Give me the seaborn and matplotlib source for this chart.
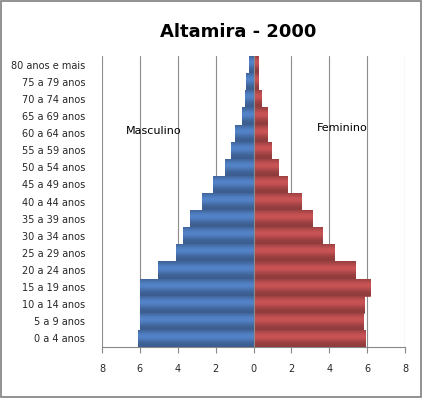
import numpy as np
import matplotlib
matplotlib.use("Agg")
import matplotlib.pyplot as plt
import matplotlib.patches as mpatches
import pandas as pd
import seaborn as sns

faixas = ['80 anos e mais', '75 a 79 anos', '70 a 74 anos', '65 a 69 anos', '60 a 64 anos',
          '55 a 59 anos', '50 a 54 anos', '45 a 49 anos', '40 a 44 anos', '35 a 39 anos',
          '30 a 34 anos', '25 a 29 anos', '20 a 24 anos', '15 a 19 anos', '10 a 14 anos',
          '5 a 9 anos', '0 a 4 anos']
masculino = [0.25, 0.42, 0.47, 0.62, 1.0, 1.17, 1.53, 2.16, 2.7, 3.33, 3.75, 4.12, 5.05, 6.0, 6.0, 6.0, 6.12]
feminino = [0.25, 0.23, 0.39, 0.71, 0.71, 0.93, 1.31, 1.76, 2.5, 3.07, 3.6, 4.23, 5.35, 6.14, 5.84, 5.79, 5.88]

df = pd.DataFrame({'faixa': faixas, 'masc': -np.array(masculino), 'fem': feminino})

sns.set_style("white")
plt.rcParams['font.family'] = ['DejaVu Sans']

fig = plt.figure(figsize=(4.22, 3.98), dpi=100)
ax = fig.add_axes([0.2417, 0.128, 0.7183, 0.731])

sns.barplot(data=df, x='masc', y='faixa', order=faixas, color='#3a74c8', width=1.0,
            edgecolor='#2a5399', linewidth=0.4, ax=ax, zorder=3)
sns.barplot(data=df, x='fem', y='faixa', order=faixas, color='#c93a3c', width=1.0,
            edgecolor='#8f2426', linewidth=0.4, ax=ax, zorder=3)

# Excel-like cylinder shading on each bar (dark edges, light upper middle)
t = np.linspace(0, 1, 40)
shade = 0.78 + 0.32 * np.exp(-((t - 0.4) / 0.3) ** 2)
for p in ax.patches:
    x0, y0 = p.get_x(), p.get_y()
    w, h = p.get_width(), p.get_height()
    base = np.array(matplotlib.colors.to_rgb(p.get_facecolor()))
    img = np.clip(base[None, :] * shade[:, None], 0, 1)[:, None, :]
    im = ax.imshow(img, extent=[x0, x0 + w, y0 + h, y0], aspect='auto', zorder=3.5,
                   interpolation='bilinear')
    im.set_clip_path(p)

ax.set_xlim(-8, 8)
ax.set_ylim(len(faixas) - 0.5, -0.5)
ax.set_xticks(np.arange(-8, 9, 2))
ax.set_xticklabels([str(abs(v)) for v in range(-8, 9, 2)], fontsize=7)
ax.tick_params(axis='x', bottom=True, direction='out', length=4, width=0.8, color='#888888', pad=8)
ax.tick_params(axis='y', left=False, length=0, labelsize=7, pad=12)
ax.grid(axis='x', color='#8c8c8c', linewidth=0.8, zorder=0)
ax.axvline(0, color='#8c8c8c', linewidth=0.8, zorder=4)
ax.set_xlabel('')
ax.set_ylabel('')
for s in ['top', 'left', 'right']:
    ax.spines[s].set_visible(False)
ax.spines['bottom'].set_color('#888888')
ax.spines['bottom'].set_linewidth(0.8)

ax.text(-5.25, 3.85, 'Masculino', ha='center', va='center', fontsize=8, color='black')
ax.text(4.7, 3.7, 'Feminino', ha='center', va='center', fontsize=8, color='black')

fig.text(0.564, 0.92, 'Altamira - 2000', ha='center', va='center', fontsize=13,
         fontweight='bold', color='black')
fig.patches.append(mpatches.Rectangle((0.002, 0.002), 0.995, 0.995, transform=fig.transFigure,
                                      fill=False, edgecolor='#7f7f7f', linewidth=1.2))

fig.savefig('out.png', dpi=100)
